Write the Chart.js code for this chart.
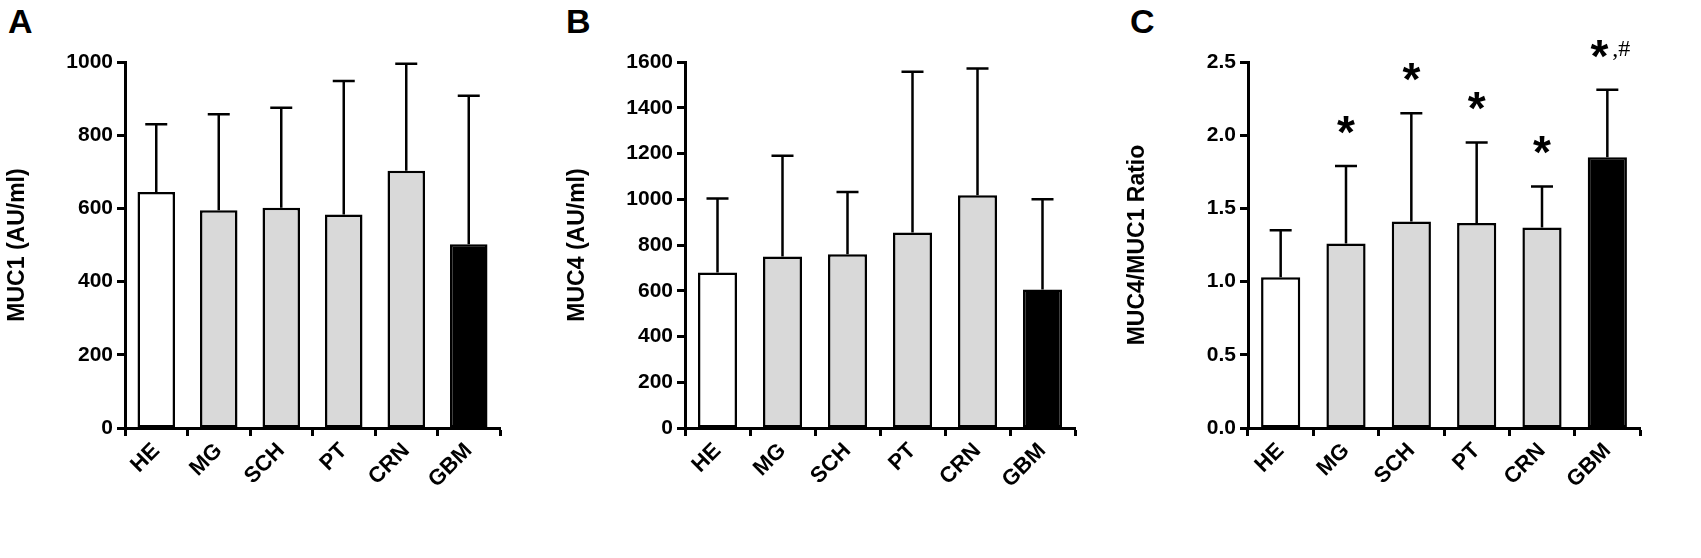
<!DOCTYPE html>
<html><head><meta charset="utf-8">
<script src="https://cdn.jsdelivr.net/npm/chart.js@4"></script>
<style>body{margin:0;background:#fff;width:1701px;height:558px;overflow:hidden;position:relative;font-family:"Liberation Sans",Arial,sans-serif}
canvas{position:absolute;top:0}
.lbl{position:absolute;font-weight:bold;font-size:34px;top:2px}</style></head><body>
<div class="lbl" style="left:8px">A</div><div class="lbl" style="left:566px">B</div><div class="lbl" style="left:1130px">C</div>
<canvas id="a" style="left:0" width="560" height="558"></canvas>
<canvas id="b" style="left:560px" width="560" height="558"></canvas>
<canvas id="c" style="left:1120px" width="581" height="558"></canvas>
<script>
const categories=["HE","MG","SCH","PT","CRN","GBM"];
const muc1Mean=[645,595,602,583,703,502];
const muc1Upper=[830,857,875,948,995,908];
const muc4Mean=[680,750,760,855,1018,605];
const muc4Upper=[1003,1190,1032,1557,1572,1000];
const ratioMean=[1.03,1.26,1.41,1.40,1.37,1.85];
const ratioUpper=[1.35,1.79,2.15,1.95,1.65,2.31];
const ratioMarks=["","*","*","*","*","*,#"];
const colors=["#ffffff","#d9d9d9","#d9d9d9","#d9d9d9","#d9d9d9","#000000"];
Chart.defaults.font.family='"Liberation Sans",Arial,sans-serif';
Chart.defaults.color='#000';
function make(id,mean,upper,max,step,title,left,right,marks){
  const errPlugin={id:'err',afterDatasetsDraw(ch){
    const c=ch.ctx,y=ch.scales.y,meta=ch.getDatasetMeta(0);
    c.save();c.strokeStyle='#000';c.lineWidth=2.5;
    meta.data.forEach((b,i)=>{const x=b.x,y0=y.getPixelForValue(mean[i]),y1=y.getPixelForValue(upper[i]);
      c.beginPath();c.moveTo(x,y0);c.lineTo(x,y1);c.moveTo(x-11,y1);c.lineTo(x+11,y1);c.stroke();
      if(marks&&marks[i]){c.fillStyle='#000';c.textAlign='center';c.textBaseline='bottom';
        c.font='bold 46px "Liberation Sans"';
        if(marks[i]==='*'){c.fillText('*',x,y1-8);}
        else{c.fillText('*',x-8,y1-8);c.font='24px "Liberation Serif"';c.fillText(',#',x+14,y1-28);}
      }});
    c.restore();}};
  new Chart(document.getElementById(id),{type:'bar',
    data:{labels:categories,datasets:[{data:mean,backgroundColor:colors,borderColor:'#000',borderWidth:2.5,borderSkipped:false,barPercentage:0.6,categoryPercentage:1}]},
    options:{responsive:false,animation:false,layout:{padding:{top:62,right:right,left:0,bottom:0}},
      plugins:{legend:{display:false},tooltip:{enabled:false}},
      scales:{
        x:{grid:{display:true,drawOnChartArea:false,drawTicks:true,tickLength:8,tickWidth:3,color:'#000'},border:{color:'#000',width:3},
          ticks:{font:{size:22,weight:'bold'},maxRotation:45,minRotation:45,padding:2},
          afterFit(s){s.height=130;}},
        y:{min:0,max:max,grid:{display:true,drawOnChartArea:false,drawTicks:true,tickLength:8,tickWidth:3,color:'#000'},border:{color:'#000',width:3},
          ticks:{stepSize:step,font:{size:21,weight:'bold'},padding:4,callback:v=>step<1?v.toFixed(1):v},
          title:{display:true,text:title,font:{size:23,weight:'bold'},padding:{bottom:4}},
          afterFit(s){s.width=left;}}
      }},plugins:[errPlugin]});
}
make('a',muc1Mean,muc1Upper,1000,200,'MUC1 (AU/ml)',125,60);
make('b',muc4Mean,muc4Upper,1600,200,'MUC4 (AU/ml)',125,45);
make('c',ratioMean,ratioUpper,2.5,0.5,'MUC4/MUC1 Ratio',128,61,ratioMarks);
</script></body></html>
